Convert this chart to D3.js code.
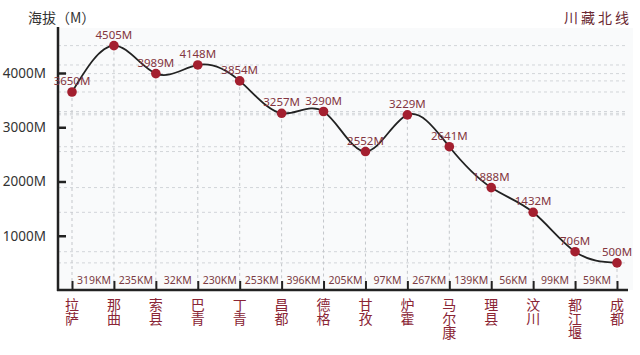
<!DOCTYPE html>
<html><head><meta charset="utf-8">
<script src="https://cdn.jsdelivr.net/npm/d3@7"></script>
<style>
html,body{margin:0;padding:0;background:#fff;}
svg{display:block;font-family:"Noto Sans CJK SC","Noto Sans",sans-serif;}
</style></head>
<body><svg id="c" width="640" height="355"></svg>
<script>
const cities = ["拉萨","那曲","索县","巴青","丁青","昌都","德格","甘孜","炉霍","马尔康","理县","汶川","都江堰","成都"];
const altitudes = [3650,4505,3989,4148,3854,3257,3290,2552,3229,2641,1888,1432,706,500];
const distances = ["319KM","235KM","32KM","230KM","253KM","396KM","205KM","97KM","267KM","139KM","56KM","99KM","59KM"];
const yTicks = [1000,2000,3000,4000];

const svg = d3.select("#c");
const W = 640, H = 355;
const axisX = 58, axisY = 290;

svg.append("rect").attr("x",0).attr("y",0).attr("width",W).attr("height",H).attr("fill","#ffffff");
svg.append("rect").attr("x",axisX).attr("y",28).attr("width",575).attr("height",axisY-28).attr("fill","#f9fafb");

const x = d3.scalePoint().domain(d3.range(cities.length)).range([72,617]);
const y = d3.scaleLinear().domain([0,4000]).range([axisY,73]);

const grid = svg.append("g");
grid.selectAll("line.h").data(altitudes).join("line")
  .attr("x1",axisX).attr("x2",628)
  .attr("y1",d=>y(d)).attr("y2",d=>y(d))
  .attr("stroke","#d2d5d9").attr("stroke-width",1).attr("stroke-dasharray","3,3");
grid.selectAll("line.v").data(altitudes).join("line")
  .attr("x1",(d,i)=>x(i)).attr("x2",(d,i)=>x(i))
  .attr("y1",d=>y(d)).attr("y2",axisY)
  .attr("stroke","#c4c7cb").attr("stroke-width",1).attr("stroke-dasharray","3,3");

// y axis
svg.append("line").attr("x1",axisX).attr("x2",axisX).attr("y1",27).attr("y2",axisY+1)
  .attr("stroke","#222").attr("stroke-width",2.5);
const yAxis = d3.axisRight(y).tickValues(yTicks).tickSize(8).tickFormat(d=>d+"M");
const ya = svg.append("g").attr("transform",`translate(${axisX},0)`).call(yAxis);
ya.select(".domain").remove();
ya.selectAll(".tick line").attr("stroke","#222").attr("stroke-width",2.5);
ya.selectAll(".tick text").attr("x",-12).attr("text-anchor","end")
  .attr("font-size",13.5).attr("fill","#333").attr("font-family","'Noto Sans',sans-serif");

// x axis
svg.append("line").attr("x1",axisX-1).attr("x2",628).attr("y1",axisY).attr("y2",axisY)
  .attr("stroke","#222").attr("stroke-width",2.5);
const xAxis = d3.axisTop(x).tickSize(9).tickFormat("");
const xa = svg.append("g").attr("transform",`translate(0,${axisY})`).call(xAxis);
xa.select(".domain").remove();
xa.selectAll(".tick line").attr("stroke","#222").attr("stroke-width",2);

// distance labels
svg.append("g").selectAll("text").data(distances).join("text")
  .attr("x",(d,i)=>(x(i)+x(i+1))/2+1).attr("y",axisY-6)
  .attr("text-anchor","middle").attr("font-size",10.5).attr("fill","#7b3a42")
  .attr("font-family","'Noto Sans',sans-serif")
  .text(d=>d);

// city labels (vertical writing)
svg.append("g").selectAll("text").data(cities).join("text")
  .attr("x",(d,i)=>x(i)).attr("y",298)
  .attr("writing-mode","vertical-rl")
  .attr("text-anchor","start").attr("font-size",14).attr("fill","#8a2535")
  .text(d=>d);

// curve
const line = d3.line().x((d,i)=>x(i)).y(d=>y(d)).curve(d3.curveNatural);
svg.append("path").datum(altitudes).attr("d",line)
  .attr("fill","none").attr("stroke","#222").attr("stroke-width",1.8);

// points
svg.append("g").selectAll("circle").data(altitudes).join("circle")
  .attr("cx",(d,i)=>x(i)).attr("cy",d=>y(d)).attr("r",4.8).attr("fill","#a31f2f");

// value labels
svg.append("g").selectAll("text").data(altitudes).join("text")
  .attr("x",(d,i)=>x(i)).attr("y",d=>y(d)-7)
  .attr("text-anchor","middle").attr("font-size",11.5).attr("fill","#833540")
  .attr("font-family","'Noto Sans',sans-serif")
  .text(d=>d+"M");

// titles
svg.append("text").attr("x",28).attr("y",23).attr("font-size",14).attr("fill","#333").text("海拔（M）");
svg.append("text").attr("x",632).attr("y",23).attr("text-anchor","end").attr("font-size",14)
  .attr("letter-spacing",3).attr("fill","#6b2a33").text("川藏北线");
</script></body></html>
